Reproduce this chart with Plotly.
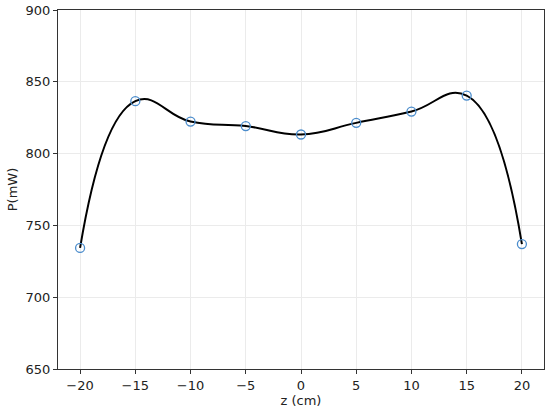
import plotly.graph_objects as go

z_cm = [-20, -15, -10, -5, 0, 5, 10, 15, 20]
p_mw = [734.3, 836.5, 822.3, 819.2, 813.3, 821.4, 829.3, 840.4, 737.0]

x_ticks = [-20, -15, -10, -5, 0, 5, 10, 15, 20]
x_tick_labels = ["−20", "−15", "−10", "−5", "0", "5", "10", "15", "20"]
y_ticks = [650, 700, 750, 800, 850, 900]

fig = go.Figure()
fig.add_trace(go.Scatter(
    x=z_cm, y=p_mw, mode="lines",
    line=dict(color="black", width=2, shape="spline", smoothing=1.3),
    showlegend=False, hoverinfo="skip",
))
fig.add_trace(go.Scatter(
    x=z_cm, y=p_mw, mode="markers",
    marker=dict(symbol="circle-open", size=9, color="#4a8ccc", line=dict(width=1.3, color="#4a8ccc")),
    showlegend=False,
))

axis_common = dict(
    showline=True, linecolor="#333333", linewidth=1.2, mirror=True,
    ticks="outside", ticklen=4, tickcolor="#333333",
    showgrid=True, gridcolor="#ebebeb", gridwidth=1,
    zeroline=False, automargin=False,
    tickfont=dict(family="DejaVu Sans", size=13, color="#222222"),
    title_font=dict(family="DejaVu Sans", size=13, color="#222222"),
)

fig.update_layout(
    width=550, height=416,
    margin=dict(l=58, r=6, t=10, b=47),
    paper_bgcolor="white", plot_bgcolor="white",
    xaxis=dict(range=[-22, 22], tickvals=x_ticks, ticktext=x_tick_labels,
               title=dict(text="z (cm)", standoff=2), **axis_common),
    yaxis=dict(range=[650, 900], tickvals=y_ticks,
               title=dict(text="P(mW)", standoff=4), **axis_common),
)

fig.write_html(
    "out.html",
    config={"displayModeBar": False},
    post_script="document.body.style.margin='0';document.body.style.overflow='hidden';",
)
